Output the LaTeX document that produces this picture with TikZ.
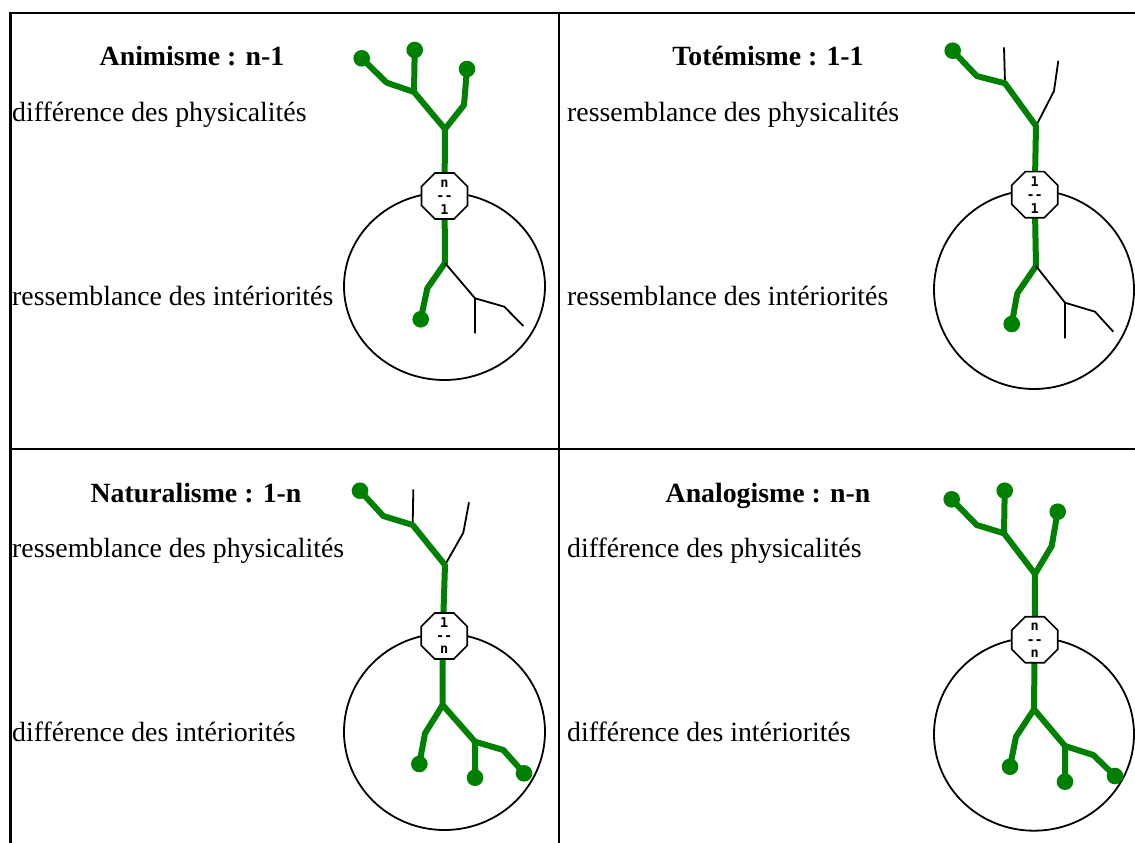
\documentclass[tikz,border=0pt]{standalone}
\usepackage{fontspec}
\setmainfont{Liberation Serif}
\newfontfamily\octfont{DejaVu Sans Mono}
\usetikzlibrary{shapes.geometric}
\definecolor{treegreen}{RGB}{0,128,0}
\tikzset{
  grn/.style={draw=treegreen, line width=6, line join=round, line cap=round},
  thinline/.style={draw=black, line width=1.8, line join=round},
  tip/.style={fill=treegreen},
  rim/.style={draw=black, line width=1.8},
  border/.style={draw=black, line width=2.4},
  octo/.style={draw=black, line width=1.6, fill=white, regular polygon, regular polygon sides=8, minimum size=49.8, inner sep=0},
  octtxt/.style={inner sep=0, font=\octfont\bfseries\fontsize{13.5}{13.5}\selectfont},
  ttl/.style={inner sep=0, anchor=base, font=\bfseries\fontsize{27.8}{33}\selectfont},
  lbl/.style={inner sep=0, anchor=base west, font=\fontsize{27.8}{33}\selectfont},
}
\begin{document}
\begin{tikzpicture}[x=1pt,y=-1pt]
\useasboundingbox (0,0) rectangle (1135,843);
% table
\draw[border] (10.5,843) -- (10.5,13) -- (1135,13);
\draw[border] (559,13) -- (559,843);
\draw[border] (10.5,449) -- (1135,449);

% ---------- cell 1: Animisme ----------
\node[ttl] (t1) at (192,66) {Animisme : n-1};
\node[lbl] (p1) at (12,121) {différence des physicalités};
\node[lbl] (i1) at (12,305) {ressemblance des intériorités};
\draw[rim] (444.5,286.3) ellipse [x radius=100.5, y radius=93.7];
\draw[grn] (444.5,196) -- (445,129) -- (464,105) -- (467,69);
\draw[grn] (445,129) -- (414,92) -- (414.7,50);
\draw[grn] (414,92) -- (386.7,82.7) -- (361.7,58.3);
\fill[tip] (467,69) circle (8.3) (414.7,50) circle (8.3) (361.7,58.3) circle (8.3);
\draw[grn] (444.5,196) -- (445,263) -- (427.3,288.3) -- (420.7,319.3);
\fill[tip] (420.7,319.3) circle (8.3);
\draw[thinline] (445,263) -- (475,298.3) -- (475,333.3);
\draw[thinline] (475,298.3) -- (504.3,306.7) -- (523.3,326);
\node[octo] (o1) at (444.5,196) {};
\node[octtxt] (o1a) at (444.5,183.5) {n};
\node[octtxt] (o1b) at (444.5,198.5) {-{}-};
\node[octtxt] (o1c) at (444.5,209.5) {1};

% ---------- cell 2: Totemisme ----------
\node[ttl] (t2) at (768,66) {Totémisme : 1-1};
\node[lbl] (p2) at (567,121) {ressemblance des physicalités};
\node[lbl] (i2) at (567,305) {ressemblance des intériorités};
\draw[rim] (1034,289.7) ellipse [x radius=100, y radius=99.3];
\draw[thinline] (1036,126) -- (1054,91) -- (1058.3,60.7);
\draw[thinline] (1005,83.3) -- (1004,47.3);
\draw[grn] (1034.7,194.7) -- (1036,126) -- (1005,83.3) -- (976.7,76) -- (952.7,50.7);
\fill[tip] (952.7,50.7) circle (8.3);
\draw[grn] (1034.7,194.7) -- (1036,266) -- (1017.3,293.3) -- (1011.7,324);
\fill[tip] (1011.7,324) circle (8.3);
\draw[thinline] (1036,266) -- (1065,302.7) -- (1065,338.3);
\draw[thinline] (1065,302.7) -- (1095,311.7) -- (1113.3,331.7);
\node[octo] (o2) at (1034.7,194.7) {};
\node[octtxt] (o2a) at (1034.7,181.7) {1};
\node[octtxt] (o2b) at (1034.7,197.2) {-{}-};
\node[octtxt] (o2c) at (1034.7,208.2) {1};

% ---------- cell 3: Naturalisme ----------
\node[ttl] (t3) at (196,502) {Naturalisme : 1-n};
\node[lbl] (p3) at (12,557) {ressemblance des physicalités};
\node[lbl] (i3) at (12,741) {différence des intériorités};
\draw[rim] (444.5,731.8) ellipse [x radius=100.5, y radius=98.2];
\draw[thinline] (445,565) -- (463.3,532.7) -- (469,502.3);
\draw[thinline] (412.7,525) -- (413.3,489.3);
\draw[grn] (442.7,636) -- (445,565) -- (412.7,525) -- (383.3,516) -- (360,490.7);
\fill[tip] (360,490.7) circle (8.3);
\draw[grn] (442.7,636) -- (442.7,705) -- (425,733.3) -- (419.3,764);
\draw[grn] (442.7,705) -- (475,741.7) -- (475,777.7);
\draw[grn] (475,741.7) -- (503.3,750) -- (524,773.3);
\fill[tip] (419.3,764) circle (8.3) (475,777.7) circle (8.3) (524,773.3) circle (8.3);
\node[octo] (o3) at (444.2,636) {};
\node[octtxt] (o3a) at (444.2,623) {1};
\node[octtxt] (o3b) at (444.2,638.5) {-{}-};
\node[octtxt] (o3c) at (444.2,650) {n};

% ---------- cell 4: Analogisme ----------
\node[ttl] (t4) at (768,502) {Analogisme : n-n};
\node[lbl] (p4) at (567,557) {différence des physicalités};
\node[lbl] (i4) at (567,741) {différence des intériorités};
\draw[rim] (1034,734.2) ellipse [x radius=100, y radius=96.5];
\draw[grn] (1034.7,639.7) -- (1035,574) -- (1051.7,546) -- (1057.7,511.7);
\draw[grn] (1035,574) -- (1004,533.3) -- (1004.7,490.7);
\draw[grn] (1004,533.3) -- (976.7,525) -- (951.7,499.3);
\fill[tip] (1057.7,511.7) circle (8.3) (1004.7,490.7) circle (8.3) (951.7,499.3) circle (8.3);
\draw[grn] (1034.7,639.7) -- (1034,709.3) -- (1016,736.7) -- (1010,766.7);
\draw[grn] (1034,709.3) -- (1065,746) -- (1065,781.7);
\draw[grn] (1065,746) -- (1093.3,755) -- (1115,776);
\fill[tip] (1010,766.7) circle (8.3) (1065,781.7) circle (8.3) (1115,776) circle (8.3);
\node[octo] (o4) at (1034.7,639.7) {};
\node[octtxt] (o4a) at (1034.7,627.2) {n};
\node[octtxt] (o4b) at (1034.7,642.2) {-{}-};
\node[octtxt] (o4c) at (1034.7,653.7) {n};
\end{tikzpicture}
\end{document}
